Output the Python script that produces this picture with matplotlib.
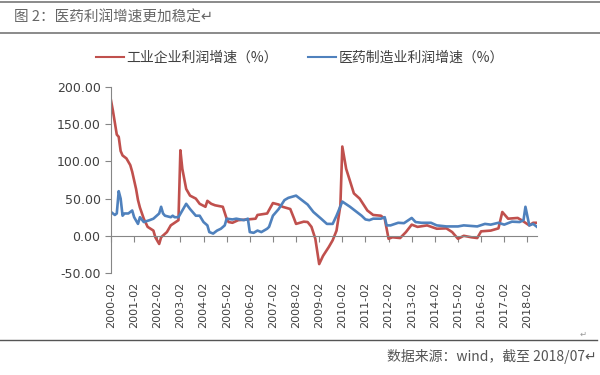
import matplotlib
matplotlib.use('Agg')
import matplotlib.pyplot as plt
from matplotlib.lines import Line2D

plt.rcParams['font.family'] = ['Noto Sans CJK SC', 'DejaVu Sans']

# months counted from 2000-02 (0) to 2018-07 (221)
tick_labels = ['%d-02' % y for y in range(2000, 2019)]

red_m = [0, 1, 3, 4, 5, 6, 8, 10, 11, 13, 14, 15, 17, 19, 22, 23, 25, 26, 29, 31, 35,
         36, 37, 39, 41, 44, 46, 49, 50, 52, 54, 56, 58, 60, 61, 63, 66, 71, 75, 76, 81,
         84, 87, 89, 93, 95, 96, 100, 102, 104, 106, 108, 110, 113, 115, 117, 119, 120,
         122, 126, 129, 133, 136, 140, 142, 144, 146, 150, 153, 156, 159, 164, 169, 174,
         177, 180, 183, 187, 190, 192, 197, 201, 203, 206, 211, 213, 217, 219, 221]
red_v = [182, 168, 136, 133, 114, 108, 104, 95, 86, 63, 48, 38, 23, 12, 7, -2, -11, -2, 5, 14, 21,
         115, 90, 63, 54, 50, 43, 39, 47, 43, 41, 40, 39, 23, 18.5, 17.5, 21, 22, 23, 28, 30,
         44, 42, 39, 36, 23, 16, 19, 18.5, 12, -4, -38, -27, -15, -6, 7, 41, 120,
         90, 57, 50, 34, 28, 27, 23, -4, -2, -3, 5, 15, 12, 14, 9.5, 10,
         5, -4, 0, -2, -3, 6, 7, 10, 32, 23, 24, 21, 14, 17.5, 17.5]

blue_m = [0, 2, 3, 4, 5, 6, 7, 9, 11, 12, 14, 15, 17, 20, 22, 25, 26, 27, 28, 31, 32, 33, 35,
          37, 39, 41, 44, 46, 48, 50, 51, 53, 55, 57, 59, 60, 63, 65, 69, 71, 72, 74, 76, 78,
          81, 82, 84, 87, 90, 92, 96, 99, 102, 105, 109, 112, 115, 117, 120, 124, 127, 130,
          132, 134, 136, 140, 142, 143, 145, 149, 152, 156, 158, 161, 166, 169, 174, 180,
          183, 190, 194, 197, 201, 204, 208, 212, 214, 215, 217, 219, 221]
blue_v = [32, 28, 30, 60, 50, 27, 30, 30, 34, 25, 16, 25, 18.5, 21, 23, 30, 39, 30, 27, 25, 27, 25, 25,
          34, 43, 36, 27, 27, 18.5, 14, 5, 3, 7, 9.5, 14, 23, 22, 23, 21, 23, 5, 4, 7, 5,
          9.5, 12, 27, 36, 48, 51, 54, 48, 42, 32, 23, 16, 16, 27, 46, 39, 33, 27,
          22, 21, 23, 23, 25, 14, 14, 17.5, 17, 24, 18.5, 17.5, 17.5, 14, 12.6, 12.6,
          14, 12.6, 16, 15, 17.5, 15, 19, 18.5, 21, 39, 14, 16, 12]

red = '#C0504D'
blue = '#4F81BD'
axis_c = '#868686'
text_c = '#404040'

fig = plt.figure(figsize=(6, 3.75), dpi=100)
ax = fig.add_axes([0.185, 0.272, 0.71, 0.496])

ax.plot(red_m, red_v, color=red, lw=1.9, solid_joinstyle='round')
ax.plot(blue_m, blue_v, color=blue, lw=1.9, solid_joinstyle='round')

ax.set_xlim(0, 221)
ax.set_ylim(-50, 200)
ax.set_yticks([-50, 0, 50, 100, 150, 200])
ax.set_yticklabels(['%.2f' % v for v in [-50, 0, 50, 100, 150, 200]],
                   fontsize=9, color=text_c, family='DejaVu Sans')

for s in ['top', 'right']:
    ax.spines[s].set_visible(False)
ax.spines['left'].set_color(axis_c)
ax.spines['bottom'].set_color(axis_c)
ax.spines['bottom'].set_position(('data', 0))
ax.tick_params(axis='y', colors=axis_c, length=4, width=0.8, labelcolor=text_c)
ax.set_xticks(range(0, 217, 12))
ax.set_xticklabels([])
ax.tick_params(axis='x', colors=axis_c, length=4, width=0.8, direction='out')

# category labels sit below the plot area (Excel "low" position)
for i, lab in enumerate(tick_labels):
    ax.text(i * 12, -0.045, lab, transform=ax.get_xaxis_transform(), rotation=90,
            ha='center', va='top', fontsize=8, color=text_c, family='DejaVu Sans')

# legend
handles = [Line2D([], [], color=red, lw=1.5), Line2D([], [], color=blue, lw=1.5)]
fig.legend(handles, ['工业企业利润增速（%）', '医药制造业利润增速（%）'],
           loc='center', bbox_to_anchor=(0.5, 0.845), ncol=2, frameon=False,
           fontsize=10, handlelength=2.0, handletextpad=0.2, columnspacing=2.2,
           labelcolor=text_c)

# title and source with rules
fig.text(0.023, 0.952, '图 2：医药利润增速更加稳定↵', fontsize=10.5, color='#666666',
         va='center', ha='left')
fig.add_artist(Line2D([0.0, 1.0], [0.995, 0.995], color='#777777', lw=1.2))
fig.add_artist(Line2D([0.0, 1.0], [0.912, 0.912], color='#777777', lw=1.2))
fig.add_artist(Line2D([0.0, 0.995], [0.093, 0.093], color='#555555', lw=1.0))
fig.text(0.972, 0.108, '↵', fontsize=6, color='#999999', ha='center', va='center')
fig.text(0.995, 0.048, '数据来源：wind，截至 2018/07↵', fontsize=10, color='#555555',
         ha='right', va='center')

fig.savefig('out.png', dpi=100)
